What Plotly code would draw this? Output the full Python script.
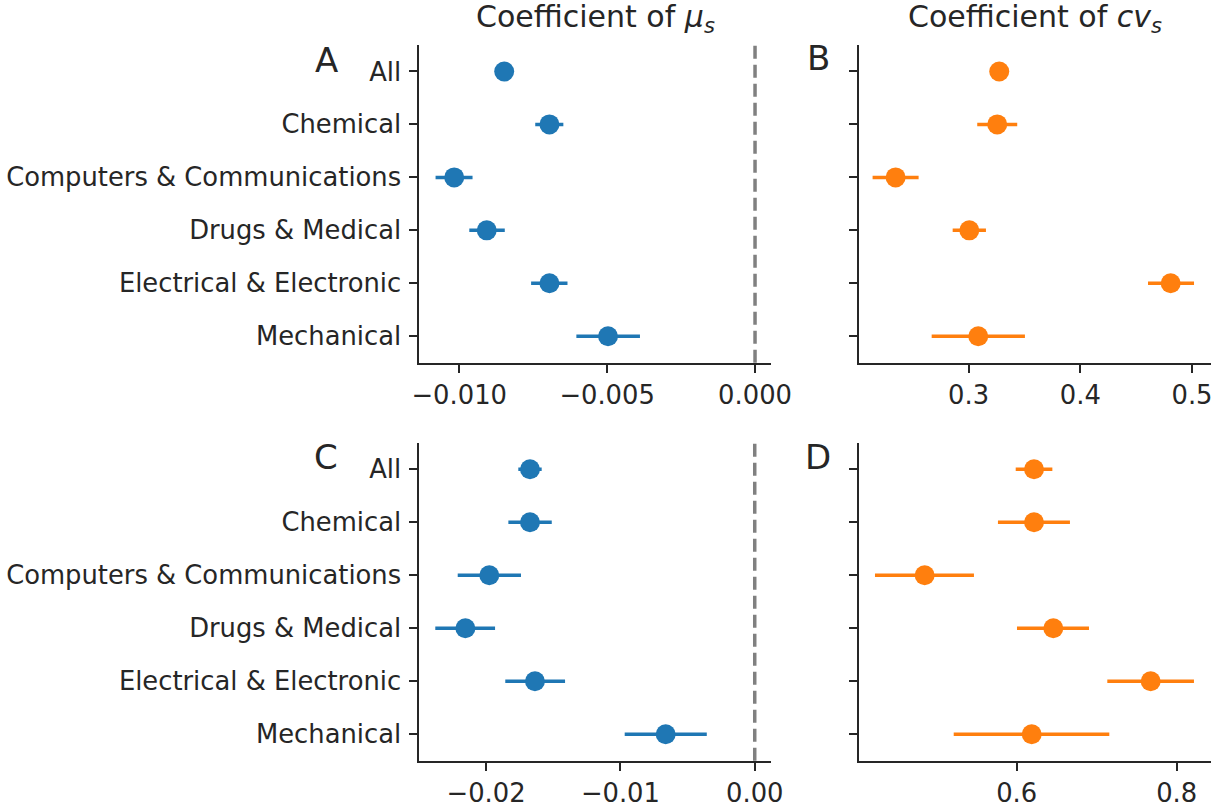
import plotly.graph_objects as go
from plotly.subplots import make_subplots

categories = ["All", "Chemical", "Computers & Communications", "Drugs & Medical",
              "Electrical & Electronic", "Mechanical"]

# Panel A: coefficient of mu_s (top row)
a_mean = [-0.00848, -0.00695, -0.01017, -0.00907, -0.00695, -0.00497]
a_lo = [-0.00868, -0.00743, -0.01080, -0.00966, -0.00757, -0.00604]
a_hi = [-0.00828, -0.00648, -0.00955, -0.00846, -0.00634, -0.00389]

# Panel B: coefficient of cv_s (top row)
b_mean = [0.3274, 0.3256, 0.2346, 0.3006, 0.4809, 0.3086]
b_lo = [0.3214, 0.3077, 0.2140, 0.2857, 0.4606, 0.2669]
b_hi = [0.3334, 0.3435, 0.2552, 0.3155, 0.5018, 0.3504]

# Panel C: coefficient of mu_s (bottom row)
c_mean = [-0.01673, -0.01673, -0.01976, -0.02154, -0.01636, -0.00663]
c_lo = [-0.01760, -0.01834, -0.02211, -0.02378, -0.01857, -0.00968]
c_hi = [-0.01586, -0.01511, -0.01740, -0.01933, -0.01412, -0.00357]

# Panel D: coefficient of cv_s (bottom row)
d_mean = [0.6217, 0.6217, 0.4850, 0.6458, 0.7675, 0.6188]
d_lo = [0.5988, 0.5766, 0.4229, 0.6004, 0.7133, 0.5213]
d_hi = [0.6446, 0.6666, 0.5466, 0.6904, 0.8216, 0.7158]

a_ticks = [-0.010, -0.005, 0.000]
b_ticks = [0.3, 0.4, 0.5]
c_ticks = [-0.02, -0.01, 0.00]
d_ticks = [0.6, 0.8]

BLUE = "#1f77b4"
ORANGE = "#ff7f0e"
INK = "#262626"
FONT = "DejaVu Sans"

fig = make_subplots(rows=2, cols=2)

panels = [
    (1, 1, a_mean, a_lo, a_hi, BLUE),
    (1, 2, b_mean, b_lo, b_hi, ORANGE),
    (2, 1, c_mean, c_lo, c_hi, BLUE),
    (2, 2, d_mean, d_lo, d_hi, ORANGE),
]
for r, c, m, lo, hi, col in panels:
    fig.add_trace(go.Scatter(
        x=m, y=categories, mode="markers",
        marker=dict(color=col, size=20, line=dict(width=0)),
        error_x=dict(type="data", symmetric=False,
                     array=[h - v for h, v in zip(hi, m)],
                     arrayminus=[v - l for l, v in zip(lo, m)],
                     color=col, thickness=3.5, width=0),
        showlegend=False, hoverinfo="x+y"), row=r, col=c)

W, H = 1225, 808


def px(x):
    return x / W


def py(y):
    return 1 - y / H


xl, xr = px(419.3), px(771)
xl2, xr2 = px(859.3), px(1211)
yt1, yb1 = py(45), py(362.7)
yt2, yb2 = py(442.7), py(760.7)

axis_common = dict(showline=True, linecolor=INK, linewidth=2, ticks="outside",
                   ticklen=8, tickwidth=2, tickcolor=INK, showgrid=False,
                   zeroline=False, mirror=False, automargin=False,
                   tickfont=dict(family=FONT, size=25.8, color=INK))

fig.update_layout(
    xaxis=dict(domain=[xl, xr], range=[-0.01135, 0.00054], tickvals=a_ticks,
               tickformat=".3f", **axis_common),
    xaxis2=dict(domain=[xl2, xr2], range=[0.2021, 0.517], tickvals=b_ticks,
                tickformat=".1f", **axis_common),
    xaxis3=dict(domain=[xl, xr], range=[-0.02497, 0.00121], tickvals=c_ticks,
                tickformat=".2f", **axis_common),
    xaxis4=dict(domain=[xl2, xr2], range=[0.4033, 0.8429], tickvals=d_ticks,
                tickformat=".1f", **axis_common),
    yaxis=dict(domain=[yb1, yt1], range=[5.5, -0.5], type="category",
               categoryorder="array", categoryarray=categories,
               ticklabelstandoff=3, **axis_common),
    yaxis2=dict(domain=[yb1, yt1], range=[5.5, -0.5], type="category",
                categoryorder="array", categoryarray=categories,
                showticklabels=False, **axis_common),
    yaxis3=dict(domain=[yb2, yt2], range=[5.5, -0.5], type="category",
                categoryorder="array", categoryarray=categories,
                ticklabelstandoff=3, **axis_common),
    yaxis4=dict(domain=[yb2, yt2], range=[5.5, -0.5], type="category",
                categoryorder="array", categoryarray=categories,
                showticklabels=False, **axis_common),
    width=W, height=H,
    margin=dict(l=0, r=0, t=0, b=0, pad=0, autoexpand=False),
    paper_bgcolor="white", plot_bgcolor="white",
    font=dict(family=FONT, color=INK),
)

# Dashed zero lines in A and C
for xref, yref in [("x", "y domain"), ("x3", "y3 domain")]:
    fig.add_shape(type="line", xref=xref, yref=yref, x0=0, x1=0, y0=0, y1=1,
                  line=dict(color="#808080", width=3.5, dash="13px,6px"), layer="below")

# Column titles
fig.add_annotation(text="Coefficient of <i>μ</i><sub><i>s</i></sub>", xref="paper", yref="paper",
                   x=(xl + xr) / 2, y=py(18), showarrow=False, xanchor="center",
                   yanchor="middle", font=dict(family=FONT, size=30, color=INK))
fig.add_annotation(text="Coefficient of <i>cv</i><sub><i>s</i></sub>", xref="paper", yref="paper",
                   x=(xl2 + xr2) / 2, y=py(18), showarrow=False, xanchor="center",
                   yanchor="middle", font=dict(family=FONT, size=30, color=INK))

# Panel letters
letters = [("A", 326, 60), ("B", 818, 58), ("C", 326, 457), ("D", 818, 457)]
for t, lx, ly in letters:
    fig.add_annotation(text=t, xref="paper", yref="paper", x=px(lx), y=py(ly),
                       showarrow=False, xanchor="center", yanchor="middle",
                       font=dict(family=FONT, size=34, color=INK))

fig.write_html("out.html", config={"displayModeBar": False},
               post_script="document.body.style.margin='0px';")
